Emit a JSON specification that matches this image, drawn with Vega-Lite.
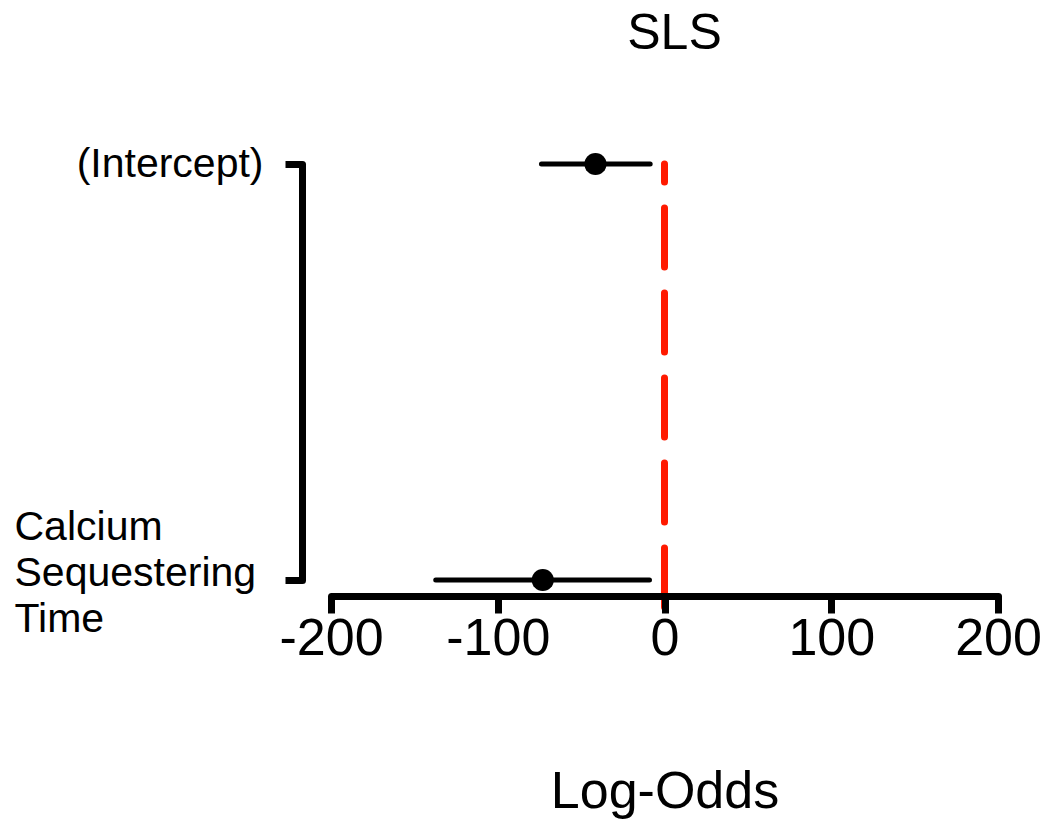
{
  "$schema": "https://vega.github.io/schema/vega-lite/v6.json",
  "width": 667,
  "height": 416,
  "autosize": {"type": "none"},
  "padding": {"left": 331, "top": 164, "right": 47, "bottom": 241},
  "background": "white",
  "config": {
    "view": {"stroke": null},
    "font": "Liberation Sans"
  },
  "title": {
    "text": "SLS",
    "font": "Liberation Sans",
    "fontSize": 50,
    "fontWeight": "normal",
    "color": "black",
    "frame": "group",
    "anchor": "middle",
    "baseline": "alphabetic",
    "offset": 44,
    "dx": 10
  },
  "data": {
    "values": [
      {"term": "(Intercept)", "rank": 2, "estimate": -41.4, "lower": -73.8, "upper": -8.6},
      {"term": "Calcium Sequestering Time", "rank": 1, "estimate": -73.0, "lower": -137.2, "upper": -9.0}
    ]
  },
  "layer": [
    {
      "data": {"values": [{"ref": 0}]},
      "mark": {"type": "rule", "color": "#ff1a00", "strokeWidth": 7, "strokeDash": [59, 26], "strokeCap": "round"},
      "encoding": {
        "x": {"field": "ref", "type": "quantitative"},
        "y": {"datum": 0.935, "type": "quantitative"},
        "y2": {"datum": 2}
      }
    },
    {
      "mark": {"type": "rule", "color": "black", "strokeWidth": 5, "strokeCap": "round"},
      "encoding": {
        "x": {
          "field": "lower",
          "type": "quantitative",
          "scale": {"domain": [-200, 200], "nice": false, "zero": false},
          "axis": {
            "title": "Log-Odds",
            "values": [-200, -100, 0, 100, 200],
            "labelExpr": "datum.value < 0 ? '-' + abs(datum.value) : '' + datum.value",
            "offset": 16,
            "grid": false,
            "zindex": 1,
            "domainColor": "black",
            "domainWidth": 7,
            "domainCap": "round",
            "tickColor": "black",
            "tickWidth": 7,
            "tickSize": 17,
            "labelFont": "Liberation Sans",
            "labelFontSize": 52,
            "labelColor": "black",
            "labelPadding": 0,
            "labelFlush": false,
            "labelOverlap": false,
            "labelLimit": 0,
            "titleFont": "Liberation Sans",
            "titleFontSize": 52,
            "titleFontWeight": "normal",
            "titleColor": "black",
            "titlePadding": 102
          }
        },
        "x2": {"field": "upper"},
        "y": {
          "field": "rank",
          "type": "quantitative",
          "scale": {"domain": [1, 2], "nice": false, "zero": false},
          "axis": {
            "title": null,
            "values": [1, 2],
            "offset": 29,
            "grid": false,
            "zindex": 1,
            "domainColor": "black",
            "domainWidth": 7,
            "domainCap": "round",
            "tickColor": "black",
            "tickWidth": 7,
            "tickSize": 17,
            "labelExpr": "datum.value == 2 ? '(Intercept)' : ['Calcium', 'Sequestering', 'Time']",
            "labelFont": "Liberation Sans",
            "labelFontSize": 41,
            "labelLineHeight": 46,
            "labelColor": "black",
            "labelBaseline": "middle",
            "labelLimit": 0,
            "labelAlign": {"condition": {"test": "datum.value == 2", "value": "right"}, "value": "left"},
            "labelPadding": {"condition": {"test": "datum.value == 2", "value": 22}, "value": 271},
            "labelOffset": {"condition": {"test": "datum.value == 2", "value": 0}, "value": -53},
            "labelFlush": false,
            "labelOverlap": false
          }
        }
      }
    },
    {
      "mark": {"type": "point", "shape": "circle", "filled": true, "color": "black", "opacity": 1, "size": 491},
      "encoding": {
        "x": {"field": "estimate", "type": "quantitative"},
        "y": {"field": "rank", "type": "quantitative"}
      }
    }
  ]
}
